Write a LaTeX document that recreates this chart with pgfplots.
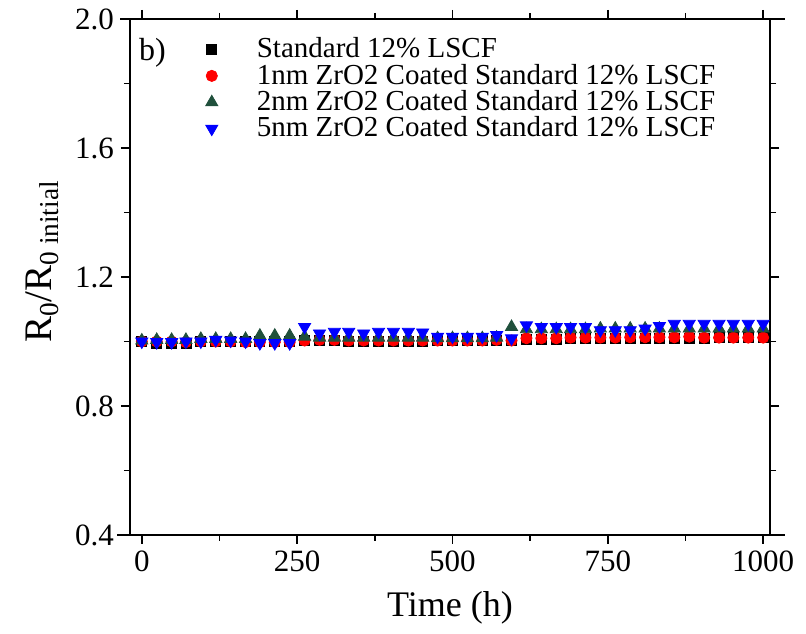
\documentclass[border=0pt]{standalone}
\usepackage{fontspec}
\setmainfont{Liberation Serif}
\usepackage{pgfplots}
\pgfplotsset{compat=1.18}
\definecolor{dkgreen}{RGB}{32,80,60}

\pgfplotstableread{
t    std    one    two    five
0    1.000  1.000  1.003  1.000
24   0.995  1.000  1.005  0.998
48   0.995  1.000  1.005  0.998
71   0.995  0.998  1.005  1.000
95   1.000  1.000  1.008  1.000
119  1.000  1.000  1.008  1.005
143  1.000  1.000  1.008  1.003
167  1.000  0.998  1.008  1.000
190  1.000  0.998  1.018  0.995
214  1.000  0.998  1.018  0.995
238  1.000  0.998  1.018  0.995
262  1.003  1.003  1.015  1.045
286  1.003  1.005  1.012  1.025
310  1.003  1.005  1.012  1.030
333  1.000  1.003  1.012  1.030
357  1.000  1.003  1.012  1.025
381  1.000  1.003  1.012  1.030
405  1.000  1.003  1.012  1.030
429  1.000  1.003  1.012  1.030
452  1.000  1.003  1.012  1.028
476  1.002  1.003  1.010  1.015
500  1.002  1.003  1.010  1.015
524  1.002  1.003  1.010  1.015
548  1.002  1.003  1.010  1.015
571  1.002  1.005  1.012  1.020
595  1.003  1.003  1.045  1.010
619  1.008  1.010  1.038  1.050
643  1.008  1.010  1.038  1.045
667  1.008  1.010  1.038  1.045
690  1.009  1.012  1.038  1.045
714  1.009  1.012  1.038  1.045
738  1.009  1.012  1.040  1.035
762  1.010  1.012  1.040  1.035
786  1.010  1.013  1.040  1.035
810  1.010  1.013  1.040  1.040
833  1.010  1.013  1.040  1.048
857  1.011  1.013  1.040  1.055
881  1.011  1.015  1.040  1.055
905  1.011  1.012  1.040  1.055
929  1.012  1.012  1.040  1.055
952  1.012  1.012  1.040  1.055
976  1.012  1.012  1.040  1.055
1000 1.012  1.012  1.040  1.055
}\datatable

\begin{document}
\begin{tikzpicture}
\begin{axis}[
  scale only axis,
  width=320pt, height=258pt,
  xmin=-19, xmax=1011,
  ymin=0.4, ymax=2.0,
  xtick={0,250,500,750,1000},
  ytick={0.4,0.8,1.2,1.6,2.0},
  minor tick num=1,
  tick align=outside,
  major tick length=4.5pt,
  minor tick length=3pt,
  every tick/.style={black, line width=0.9pt},
  axis line style={line width=1pt},
  yticklabel style={/pgf/number format/fixed, /pgf/number format/fixed zerofill, /pgf/number format/precision=1},
  xticklabel style={/pgf/number format/1000 sep={}},
  /pgf/number format/assume math mode=true,
  tick label style={font=\fontsize{15.5}{17}\selectfont},
  label style={font=\fontsize{18}{20}\selectfont},
  xlabel={Time (h)},
  ylabel={R\textsubscript{0}/R\textsubscript{0 initial}},
  xlabel style={yshift=-3pt},
  ylabel style={at={(ticklabel cs:0.53)}, yshift=1.5pt, font=\fontsize{19.5}{21}\selectfont},
  legend style={draw=none, fill=none, at={(rel axis cs:0.1,0.975)}, anchor=north west,
    font=\fontsize{14.5}{16}\selectfont, row sep=0pt,
    nodes={inner sep=1.2pt, text height=9.5pt, text depth=1.3pt}},
  legend cell align=left,
  legend image code/.code={\path[draw=none, fill=none] (0,0) -- (0.95cm,0);
    \draw[#1] plot coordinates {(0.2cm,0cm)};},
]
\addplot[only marks, mark=square*, mark size=2.5pt, black] table[x=t, y=std] {\datatable};
\addlegendentry{Standard 12\% LSCF}
\addplot[only marks, mark=*, mark size=2.8pt, red] table[x=t, y=one] {\datatable};
\addlegendentry{1nm ZrO2 Coated Standard 12\% LSCF}
\addplot[only marks, mark=triangle*, mark size=3.5pt, dkgreen] table[x=t, y=two] {\datatable};
\addlegendentry{2nm ZrO2 Coated Standard 12\% LSCF}
\addplot[only marks, mark=triangle*, mark size=3.5pt, blue, mark options={rotate=180}] table[x=t, y=five] {\datatable};
\addlegendentry{5nm ZrO2 Coated Standard 12\% LSCF}
\node[anchor=center, font=\fontsize{16}{18}\selectfont] at (rel axis cs:0.035,0.935) {b)};
\end{axis}
\draw[line width=1pt] ([xshift=-6.5pt]current axis.south west) -- ([xshift=7.5pt]current axis.south east);
\draw[line width=1pt] ([xshift=-5pt]current axis.north west) -- ([xshift=7.5pt]current axis.north east);
\path ([xshift=-65pt, yshift=-49.5pt]current axis.south west) -- ([xshift=18pt, yshift=9.5pt]current axis.north east);
\end{tikzpicture}
\end{document}
